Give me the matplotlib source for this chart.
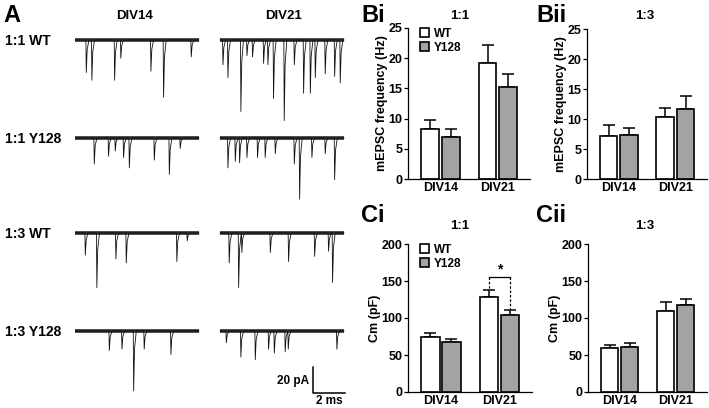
import numpy as np
import matplotlib
matplotlib.use('Agg')
import matplotlib.pyplot as plt

plt.rcParams['font.family'] = ['Liberation Sans', 'DejaVu Sans']
plt.rcParams['font.weight'] = 'bold'
plt.rcParams['axes.labelweight'] = 'bold'

# --- data -------------------------------------------------------------
groups = ['DIV14', 'DIV21']
genotypes = ['WT', 'Y128']

# mEPSC frequency (Hz), mean and SEM
freq_11_wt = [8.3, 19.2]
freq_11_wt_err = [1.4, 3.0]
freq_11_y128 = [7.0, 15.2]
freq_11_y128_err = [1.3, 2.2]

freq_13_wt = [7.2, 10.3]
freq_13_wt_err = [1.8, 1.5]
freq_13_y128 = [7.4, 11.7]
freq_13_y128_err = [1.1, 2.2]

# membrane capacitance (pF)
cm_11_wt = [75, 128]
cm_11_wt_err = [5, 10]
cm_11_y128 = [68, 104]
cm_11_y128_err = [4, 7]

cm_13_wt = [59, 110]
cm_13_wt_err = [4, 11]
cm_13_y128 = [61, 117]
cm_13_y128_err = [5, 9]

# example traces: mEPSC events as (time ms, amplitude pA)
row_labels = ['1:1 WT', '1:1 Y128', '1:3 WT', '1:3 Y128']
events_div14 = [
    [(0.69, 25), (1.04, 31), (2.46, 31), (2.85, 14), (4.73, 24), (5.52, 44), (7.25, 13)],
    [(1.19, 20), (2.08, 14), (2.50, 10), (3.02, 15), (3.38, 23), (4.94, 17), (5.88, 28), (6.56, 8)],
    [(0.63, 17), (1.35, 42), (2.54, 20), (3.19, 23), (6.35, 22), (7.0, 6)],
    [(2.13, 15), (2.92, 14), (3.65, 46), (4.31, 14), (5.98, 18)],
]
events_div21 = [
    [(0.17, 19), (0.48, 29), (1.29, 55), (1.67, 12), (2.02, 13), (2.71, 18), (2.98, 19),
     (3.33, 45), (4.00, 62), (4.63, 19), (5.21, 41), (5.63, 41), (5.94, 29), (6.56, 26),
     (7.15, 28), (7.50, 33)],
    [(0.48, 23), (0.94, 18), (1.21, 19), (1.67, 15), (2.33, 15), (2.81, 15), (3.44, 12),
     (4.63, 20), (4.96, 47), (5.73, 15), (6.56, 12), (7.15, 32)],
    [(0.56, 23), (1.15, 42), (1.35, 15), (3.13, 15), (4.27, 22), (5.90, 18), (6.77, 14), (7.02, 38)],
    [(0.38, 9), (1.29, 20), (2.19, 22), (3.02, 14), (3.38, 17), (4.06, 16), (4.25, 14), (7.29, 14)],
]
trace_len = 7.75  # ms

# --- layout -----------------------------------------------------------
W, H = 709, 408
fig = plt.figure(figsize=(W / 100, H / 100), dpi=100)


def px_axes(l, t, r, b):
    return fig.add_axes([l / W, 1 - b / H, (r - l) / W, (b - t) / H])


def px_text(x, y, s, **kw):
    fig.text(x / W, 1 - y / H, s, **kw)


# --- panel A: traces --------------------------------------------------
px_per_ms, px_per_pa = 16.0, 1.3
axA = px_axes(75, 20, 345, 400)
axA.set_xlim(0, 270 / px_per_ms)
axA.set_ylim(-380 / px_per_pa, 0)
axA.axis('off')

row_px = [40, 138, 233, 331]
col_start = [0, (220 - 75) / px_per_ms]


def trace_xy(events):
    xs, ys = [0.0], [0.0]
    for t, a in sorted(events):
        xs += [t - 0.01, t + 0.015, t + 0.07, t + 0.18]
        ys += [0, -a, -a * 0.3, 0]
    xs.append(trace_len)
    ys.append(0.0)
    return np.array(xs), np.array(ys)


for r, rp in enumerate(row_px):
    base = -(rp - 20) / px_per_pa
    for c, evs in enumerate([events_div14, events_div21]):
        x, y = trace_xy(evs[r])
        x0 = col_start[c]
        axA.plot([x0, x0 + trace_len], [base, base], color='#2a2a2a', lw=2.6,
                 solid_capstyle='butt')
        axA.plot(x + x0, y + base, color='#111111', lw=0.6)
    px_text(5, rp + 1, row_labels[r], fontsize=10, va='center', ha='left')

# scale bar
sb_x = (313 - 75) / px_per_ms
sb_y = -(393 - 20) / px_per_pa
axA.plot([sb_x, sb_x, sb_x + 2], [sb_y + 20, sb_y, sb_y], color='black', lw=1.1,
         clip_on=False)
px_text(309, 381, '20 pA', fontsize=8.5, ha='right', va='center')
px_text(329, 401, '2 ms', fontsize=8.5, ha='center', va='center')

px_text(3, 15, 'A', fontsize=17, ha='left', va='center')
px_text(135, 16, 'DIV14', fontsize=9.5, ha='center', va='center')
px_text(283, 16, 'DIV21', fontsize=9.5, ha='center', va='center')


# --- bar panels -------------------------------------------------------
def bar_panel(box, wt, wt_err, y128, y128_err, ymax, yticks, ylabel, legend):
    ax = px_axes(*box)
    x = np.arange(len(groups))
    off, w = 0.18, 0.31
    ax.bar(x - off, wt, w, color='white', edgecolor='black', lw=1.2, label='WT', zorder=2)
    ax.bar(x + off, y128, w, color='#a3a3a3', edgecolor='black', lw=1.2, label='Y128', zorder=2)
    ax.errorbar(x - off, wt, yerr=[np.zeros(2), wt_err], fmt='none', ecolor='black',
                elinewidth=1.1, capsize=4, capthick=1.1, zorder=1)
    ax.errorbar(x + off, y128, yerr=[np.zeros(2), y128_err], fmt='none', ecolor='black',
                elinewidth=1.1, capsize=4, capthick=1.1, zorder=1)
    ax.set_xlim(-0.565, 1.56)
    ax.set_ylim(0, ymax)
    ax.set_yticks(yticks)
    ax.set_xticks(x)
    ax.set_xticklabels(groups)
    ax.tick_params(axis='x', length=0, labelsize=9, pad=2)
    ax.tick_params(axis='y', length=3, width=0.9, labelsize=9, pad=1)
    for s in ['top', 'right']:
        ax.spines[s].set_visible(False)
    for s in ['left', 'bottom']:
        ax.spines[s].set_linewidth(0.9)
    ax.set_ylabel(ylabel, fontsize=9, labelpad=0.5)
    if legend:
        ax.legend(loc='upper left', bbox_to_anchor=(0.04, 1.05), frameon=False,
                  fontsize=8.5, handlelength=0.8, handleheight=0.8, handletextpad=0.4,
                  labelspacing=0.2, borderaxespad=0.2)
    return ax


axBi = bar_panel((408, 28, 530, 179), freq_11_wt, freq_11_wt_err, freq_11_y128,
                 freq_11_y128_err, 25, [0, 5, 10, 15, 20, 25], 'mEPSC frequency (Hz)', True)
axBii = bar_panel((587, 29, 707, 179), freq_13_wt, freq_13_wt_err, freq_13_y128,
                  freq_13_y128_err, 25, [0, 5, 10, 15, 20, 25], 'mEPSC frequency (Hz)', False)
axCi = bar_panel((408, 244, 532, 392), cm_11_wt, cm_11_wt_err, cm_11_y128,
                 cm_11_y128_err, 200, [0, 50, 100, 150, 200], 'Cm (pF)', True)
axCii = bar_panel((588, 244, 707, 392), cm_13_wt, cm_13_wt_err, cm_13_y128,
                  cm_13_y128_err, 200, [0, 50, 100, 150, 200], 'Cm (pF)', False)

# significance bracket, DIV21 in Ci
xl, xr = 1 - 0.18, 1 + 0.18
yb = 155
axCi.plot([xl, xr], [yb, yb], color='black', lw=0.9)
axCi.plot([xl, xl], [yb, cm_11_wt[1] + cm_11_wt_err[1] + 2], color='black', lw=0.9, ls=(0, (2, 1.5)))
axCi.plot([xr, xr], [yb, cm_11_y128[1] + cm_11_y128_err[1] + 1], color='black', lw=0.9, ls=(0, (2, 1.5)))
axCi.text(1, yb + 1, '*', ha='center', va='bottom', fontsize=10)

px_text(361, 15, 'Bi', fontsize=17, ha='left', va='center')
px_text(536, 15, 'Bii', fontsize=17, ha='left', va='center')
px_text(361, 215, 'Ci', fontsize=17, ha='left', va='center')
px_text(536, 215, 'Cii', fontsize=17, ha='left', va='center')
px_text(460, 16, '1:1', fontsize=9.5, ha='center', va='center')
px_text(645, 16, '1:3', fontsize=9.5, ha='center', va='center')
px_text(460, 226, '1:1', fontsize=9.5, ha='center', va='center')
px_text(645, 226, '1:3', fontsize=9.5, ha='center', va='center')

fig.savefig('out.png', dpi=100, facecolor='white')
